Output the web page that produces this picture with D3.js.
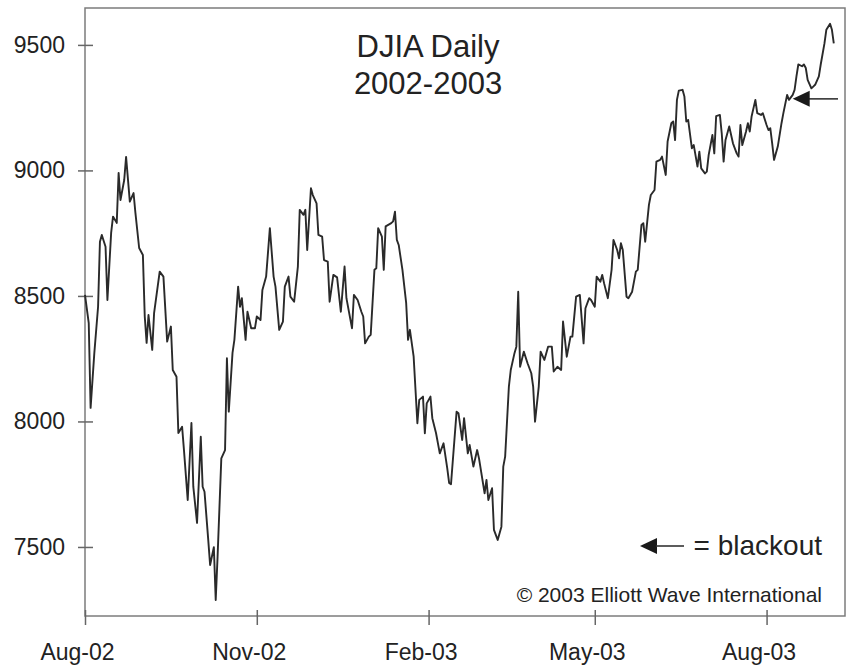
<!DOCTYPE html>
<html>
<head>
<meta charset="utf-8">
<script src="https://cdn.jsdelivr.net/npm/d3@7"></script>
<style>
    body { margin: 0; background: #fff; }
    svg { display: block; font-family: "Liberation Sans", Arial, Helvetica, sans-serif; }
</style>
</head>
<body>
<svg id="chart" width="846" height="666"></svg>
<script>

//Données (clôtures DJIA)
const dates = [
    "2002-08-01","2002-08-03","2002-08-04","2002-08-06","2002-08-08","2002-08-09","2002-08-10","2002-08-12","2002-08-13","2002-08-15",
    "2002-08-16","2002-08-18","2002-08-19","2002-08-20","2002-08-22","2002-08-23","2002-08-25","2002-08-27","2002-08-28","2002-08-30",
    "2002-09-01","2002-09-02","2002-09-03","2002-09-04","2002-09-06","2002-09-07","2002-09-10","2002-09-12","2002-09-14","2002-09-16",
    "2002-09-17","2002-09-19","2002-09-20","2002-09-22","2002-09-23","2002-09-25","2002-09-27","2002-09-28","2002-09-30","2002-10-02",
    "2002-10-03","2002-10-04","2002-10-06","2002-10-07","2002-10-09","2002-10-10","2002-10-11","2002-10-13","2002-10-15","2002-10-16",
    "2002-10-17","2002-10-19","2002-10-20","2002-10-22","2002-10-23","2002-10-24","2002-10-26","2002-10-27","2002-10-29","2002-10-31",
    "2002-11-01","2002-11-03","2002-11-04","2002-11-06","2002-11-08","2002-11-10","2002-11-11","2002-11-13","2002-11-15","2002-11-16",
    "2002-11-18","2002-11-19","2002-11-21","2002-11-23","2002-11-24","2002-11-26","2002-11-27","2002-11-28","2002-11-30","2002-12-01",
    "2002-12-03","2002-12-04","2002-12-06","2002-12-07","2002-12-09","2002-12-10","2002-12-12","2002-12-14","2002-12-16","2002-12-18",
    "2002-12-19","2002-12-22","2002-12-23","2002-12-25","2002-12-27","2002-12-28","2002-12-29","2002-12-31","2003-01-01","2003-01-03",
    "2003-01-04","2003-01-05","2003-01-07","2003-01-08","2003-01-09","2003-01-12","2003-01-13","2003-01-14","2003-01-15","2003-01-16",
    "2003-01-18","2003-01-20","2003-01-21","2003-01-22","2003-01-24","2003-01-25","2003-01-26","2003-01-27","2003-01-29","2003-01-30",
    "2003-01-31","2003-02-02","2003-02-03","2003-02-05","2003-02-07","2003-02-09","2003-02-11","2003-02-12","2003-02-13","2003-02-16",
    "2003-02-17","2003-02-19","2003-02-20","2003-02-22","2003-02-23","2003-02-25","2003-02-27","2003-02-28","2003-03-03","2003-03-04",
    "2003-03-05","2003-03-07","2003-03-08","2003-03-10","2003-03-12","2003-03-13","2003-03-14","2003-03-16","2003-03-17","2003-03-19",
    "2003-03-20","2003-03-21","2003-03-22","2003-03-24","2003-03-26","2003-03-28","2003-03-29","2003-03-30","2003-04-01","2003-04-02",
    "2003-04-04","2003-04-06","2003-04-08","2003-04-09","2003-04-11","2003-04-13","2003-04-14","2003-04-16","2003-04-18","2003-04-19",
    "2003-04-21","2003-04-23","2003-04-25","2003-04-26","2003-04-28","2003-04-29","2003-05-01","2003-05-02","2003-05-04","2003-05-05",
    "2003-05-06","2003-05-08","2003-05-10","2003-05-11","2003-05-13","2003-05-14","2003-05-15","2003-05-16","2003-05-18","2003-05-19",
    "2003-05-21","2003-05-23","2003-05-24","2003-05-26","2003-05-27","2003-05-28","2003-05-30","2003-05-31","2003-06-02","2003-06-03",
    "2003-06-05","2003-06-06","2003-06-08","2003-06-09","2003-06-11","2003-06-12","2003-06-13","2003-06-14","2003-06-15","2003-06-17",
    "2003-06-18","2003-06-19","2003-06-20","2003-06-22","2003-06-23","2003-06-25","2003-06-26","2003-06-27","2003-06-29","2003-06-30",
    "2003-07-01","2003-07-03","2003-07-04","2003-07-05","2003-07-07","2003-07-08","2003-07-09","2003-07-10","2003-07-12","2003-07-14",
    "2003-07-16","2003-07-17","2003-07-18","2003-07-19","2003-07-21","2003-07-22","2003-07-23","2003-07-24","2003-07-26","2003-07-27",
    "2003-07-29","2003-07-30","2003-08-01","2003-08-02","2003-08-03","2003-08-04","2003-08-05","2003-08-07","2003-08-09","2003-08-10",
    "2003-08-12","2003-08-13","2003-08-15","2003-08-16","2003-08-17","2003-08-18","2003-08-20","2003-08-21","2003-08-22","2003-08-23",
    "2003-08-25","2003-08-26","2003-08-27","2003-08-29","2003-08-30","2003-09-01","2003-09-02","2003-09-04","2003-09-05","2003-09-06"
];

const closes = [
    8504, 8392, 8054, 8273, 8457, 8716, 8743, 8696, 8484, 8751,
    8816, 8791, 8990, 8882, 8962, 9054, 8876, 8910, 8831, 8691,
    8663, 8418, 8313, 8424, 8285, 8432, 8597, 8577, 8318, 8378,
    8205, 8178, 7954, 7979, 7886, 7687, 7994, 7740, 7596, 7939,
    7740, 7720, 7528, 7428, 7499, 7289, 7461, 7853, 7886, 8252,
    8039, 8273, 8325, 8537, 8457, 8491, 8325, 8437, 8371, 8371,
    8418, 8404, 8524, 8577, 8770, 8577, 8537, 8365, 8398, 8537,
    8577, 8497, 8477, 8617, 8843, 8823, 8843, 8683, 8929, 8902,
    8869, 8743, 8736, 8643, 8637, 8477, 8584, 8574, 8437, 8617,
    8491, 8371, 8504, 8484, 8437, 8418, 8311, 8338, 8345, 8604,
    8610, 8770, 8736, 8604, 8777, 8790, 8797, 8836, 8723, 8703,
    8604, 8471, 8325, 8365, 8258, 8125, 7993, 8086, 8099, 7953,
    8072, 8099, 8013, 7953, 7873, 7913, 7813, 7755, 7750, 8039,
    8033, 7926, 8013, 7873, 7906, 7820, 7886, 7853, 7714, 7767,
    7687, 7734, 7568, 7528, 7581, 7820, 7860, 8139, 8205, 8272,
    8298, 8517, 8218, 8278, 8232, 8192, 8139, 7999, 8139, 8278,
    8245, 8298, 8298, 8199, 8218, 8205, 8398, 8258, 8338, 8338,
    8497, 8504, 8311, 8451, 8491, 8484, 8457, 8577, 8557, 8584,
    8550, 8491, 8604, 8723, 8683, 8650, 8710, 8683, 8497, 8491,
    8517, 8597, 8604, 8783, 8790, 8716, 8863, 8902, 8922, 9035,
    9042, 9055, 8982, 9115, 9188, 9195, 9121, 9281, 9318, 9321,
    9294, 9195, 9201, 9088, 9101, 9015, 9075, 9008, 8988, 8995,
    9062, 9141, 9068, 9216, 9221, 9147, 9035, 9121, 9175, 9108,
    9068, 9055, 9181, 9101, 9155, 9188, 9155, 9216, 9281, 9228,
    9221, 9228, 9181, 9161, 9168, 9108, 9042, 9095, 9188, 9228,
    9301, 9281, 9301, 9321, 9375, 9422, 9415, 9422, 9408, 9361,
    9327, 9334, 9341, 9375, 9422, 9506, 9560, 9584, 9560, 9506
];

const xTickDates = ["2002-08-01", "2002-11-01", "2003-02-01", "2003-05-01", "2003-08-01"];
const yTickValues = [7500, 8000, 8500, 9000, 9500];
const titleLines = ["DJIA Daily", "2002-2003"];
const blackoutMarks = [{date: "2003-08-15", value: 9285}];
const legendLabel = "= blackout";
const creditLabel = "\u00A9 2003 Elliott Wave International";

//Marge dans le graph
const margin = {top: 8, right: 1, bottom: 50, left: 85};
const svgWidth = 846;
const svgHeight = 666;
const graphWidth = svgWidth - margin.left - margin.right;
const graphHeight = svgHeight - margin.top - margin.bottom;

const parseDate = d3.timeParse("%Y-%m-%d");
const series = dates.map((d, i) => ({date: parseDate(d), value: closes[i]}));

const svg = d3.select("#chart");
const container = svg.append("g")
    .attr("transform", `translate(${margin.left}, ${margin.top})`);

//Echelles
const scaleX = d3.scaleTime()
    .domain([parseDate("2002-08-01"), parseDate("2003-09-12")])
    .range([0, graphWidth]);

const scaleY = d3.scaleLinear()
    .domain([7225, 9647])
    .range([graphHeight, 0]);

//Cadre
container.append("rect")
    .attr("width", graphWidth)
    .attr("height", graphHeight)
    .attr("fill", "none")
    .attr("stroke", "#7c7c7c")
    .attr("stroke-width", 1.5);

//Axe Y
const yAxis = container.append("g")
    .call(d3.axisLeft(scaleY).tickValues(yTickValues).tickFormat(d3.format("")));
yAxis.select(".domain").remove();
yAxis.selectAll(".tick line")
    .attr("x1", 8).attr("x2", -7)
    .attr("stroke", "#666").attr("stroke-width", 1.5);
yAxis.selectAll(".tick text")
    .attr("x", -20)
    .attr("font-size", 23)
    .attr("fill", "#222");

//Axe X
const xAxis = container.append("g")
    .attr("transform", `translate(0, ${graphHeight})`)
    .call(d3.axisBottom(scaleX)
        .tickValues(xTickDates.map(parseDate))
        .tickFormat(d3.timeFormat("%b-%y")));
xAxis.select(".domain").remove();
xAxis.selectAll(".tick line")
    .attr("y1", -6).attr("y2", 9)
    .attr("stroke", "#666").attr("stroke-width", 1.5);
xAxis.selectAll(".tick text")
    .attr("y", 44).attr("dy", 0).attr("dx", -8)
    .attr("font-size", 23)
    .attr("fill", "#222");

//Ligne des cours
const valueLine = d3.line()
    .x(d => scaleX(d.date))
    .y(d => scaleY(d.value));

container.append("path")
    .datum(series)
    .attr("fill", "none")
    .attr("stroke", "#2a2a2a")
    .attr("stroke-width", 1.9)
    .attr("stroke-linejoin", "round")
    .attr("d", valueLine);

//Fleche "blackout" dans le graph
blackoutMarks.forEach(m => {
    const tx = scaleX(parseDate(m.date));
    const ty = scaleY(m.value);
    container.append("line")
        .attr("x1", tx + 16).attr("x2", graphWidth - 7)
        .attr("y1", ty).attr("y2", ty)
        .attr("stroke", "#333").attr("stroke-width", 1.6);
    container.append("path")
        .attr("d", `M${tx},${ty}L${tx + 17},${ty - 8}L${tx + 17},${ty + 8}Z`)
        .attr("fill", "#1a1a1a");
});

//Titre
svg.append("g").selectAll("text")
    .data(titleLines)
    .enter()
    .append("text")
    .attr("x", 428)
    .attr("y", (d, i) => 57 + i * 37)
    .attr("text-anchor", "middle")
    .attr("font-size", 31)
    .attr("fill", "#222")
    .text(d => d);

//Légende
const legend = svg.append("g");
legend.append("path")
    .attr("d", "M640,546L657,538L657,554Z")
    .attr("fill", "#1a1a1a");
legend.append("line")
    .attr("x1", 656).attr("x2", 684)
    .attr("y1", 546).attr("y2", 546)
    .attr("stroke", "#333").attr("stroke-width", 1.6);
legend.append("text")
    .attr("x", 822).attr("y", 555)
    .attr("text-anchor", "end")
    .attr("font-size", 28)
    .attr("fill", "#222")
    .text(legendLabel);

svg.append("text")
    .attr("x", 822).attr("y", 602)
    .attr("text-anchor", "end")
    .attr("font-size", 21)
    .attr("fill", "#222")
    .text(creditLabel);

</script>
</body>
</html>
